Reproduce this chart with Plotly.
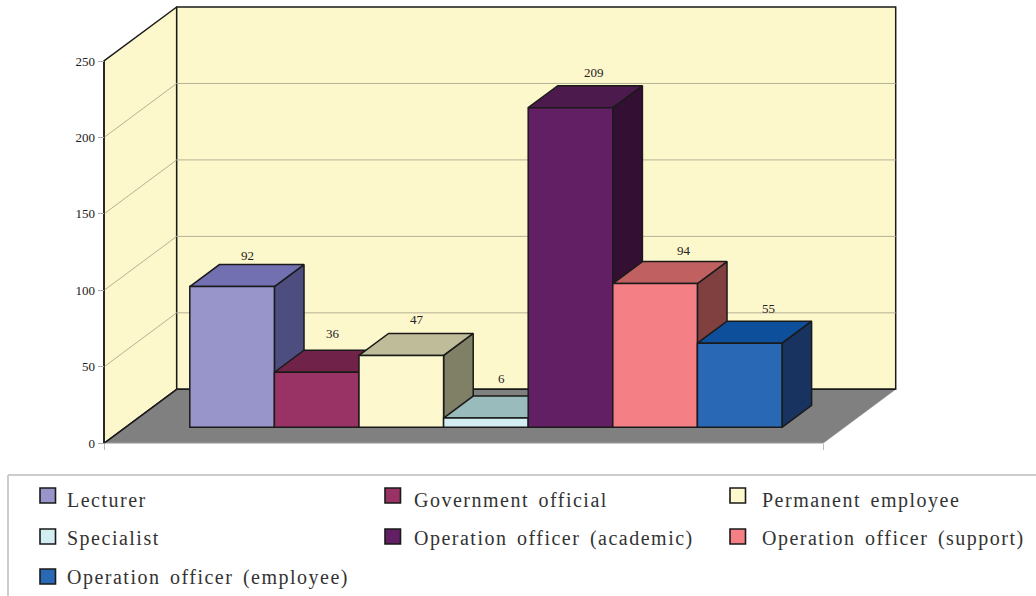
import plotly.graph_objects as go

# ---- data ----
categories = ["Lecturer", "Government official", "Permanent employee", "Specialist",
              "Operation officer (academic)", "Operation officer (support)",
              "Operation officer (employee)"]
values = [92, 36, 47, 6, 209, 94, 55]
y_ticks = [0, 50, 100, 150, 200, 250]

# ---- styles ----
front_colors = ["#9795C9", "#993366", "#FDF8CE", "#D3EEF3", "#631F63", "#F47F84", "#2968B4"]
top_colors = ["#7270B0", "#702248", "#BFBD99", "#99BBBB", "#4D1A4D", "#C06060", "#0E4F9B"]
side_colors = ["#4D4D80", "#4D1A33", "#808066", "#6A8080", "#331033", "#804040", "#183360"]
label_dx = [1, 1, 1, 1, 9, 14, 14]
label_dy = [9, 17, 14, 18, 13, 11, 13]
W, H = 1036, 596
X0, X1, Y0, Y1 = 104, 823, 443.3, 61
CAT_PX = 84.6
VAL_PX = (Y0 - Y1) / 250
DX = 72.7 / CAT_PX      # depth shift in category units
DY = 54 / VAL_PX        # depth shift in value units
D0, D1 = 16 / 54, 38 / 54  # bar front and back depth
half = (X1 - X0) / CAT_PX / 2
L, R = 2.99 - half, 2.99 + half
x_full = [L - X0 / CAT_PX, L + (W - X0) / CAT_PX]
y_full = [-(H - Y0) / VAL_PX, Y0 / VAL_PX]
WALL, FLOOR, GRID, EDGE = "#FDF7CC", "#808080", "#B5B196", "#1A1A1A"
FONT = "Liberation Serif"


def proj(x, v, d):
    return x + d * DX, v + d * DY


def poly(pts, fill, line=EDGE, width=1.5):
    xs, ys = zip(*[proj(*p) for p in pts])
    return go.Scatter(x=list(xs) + [xs[0]], y=list(ys) + [ys[0]], mode="lines", fill="toself",
                      fillcolor=fill, line=dict(color=line, width=width), hoverinfo="skip",
                      showlegend=False, xaxis="x", yaxis="y")


def seg(a, b, color, width=1.0):
    xs, ys = zip(proj(*a), proj(*b))
    return go.Scatter(x=list(xs), y=list(ys), mode="lines", line=dict(color=color, width=width),
                      hoverinfo="skip", showlegend=False, xaxis="x", yaxis="y")


fig = go.Figure()
# walls and floor
fig.add_trace(poly([(L, 0, 0), (L, 0, 1), (L, 250, 1), (L, 250, 0)], WALL))
fig.add_trace(poly([(L, 0, 1), (R, 0, 1), (R, 250, 1), (L, 250, 1)], WALL))
fig.add_trace(poly([(L, 0, 0), (R, 0, 0), (R, 0, 1), (L, 0, 1)], FLOOR, line=FLOOR, width=0.5))
fig.add_trace(seg((L, 0, 0), (L, 0, 1), EDGE, 1.5))
fig.add_trace(seg((L, 0, 1), (R, 0, 1), EDGE, 1.5))
fig.add_trace(seg((L, 0, 0), (R, 0, 0), "#CCCCCC", 1))
for t in y_ticks[1:-1]:
    fig.add_trace(seg((L, t, 0), (L, t, 1), GRID))
    fig.add_trace(seg((L, t, 1), (R, t, 1), GRID))
fig.add_trace(seg((L, 0, 0), (L, 250, 0), EDGE, 1.5))

# side faces, then top faces
for i, v in enumerate(values):
    b = i + 0.5
    fig.add_trace(poly([(b, 0, D0), (b, 0, D1), (b, v, D1), (b, v, D0)], side_colors[i]))
for i, v in enumerate(values):
    a, b = i - 0.5, i + 0.5
    fig.add_trace(poly([(a, v, D0), (b, v, D0), (b, v, D1), (a, v, D1)], top_colors[i]))

# front faces on an overlaid subplot
fig.add_trace(go.Bar(x=[i + D0 * DX for i in range(len(values))], y=values,
                     base=[D0 * DY] * len(values), width=1,
                     marker=dict(color=front_colors, line=dict(color=EDGE, width=1.5)),
                     customdata=categories, hovertemplate="%{customdata}: %{y}<extra></extra>",
                     showlegend=False, xaxis="x2", yaxis="y2"))

# value labels
anns = []
for i, v in enumerate(values):
    x, y = proj(i, v, D1)
    x -= (D1 - D0) / 2 * DX
    anns.append(dict(x=x, y=y, xref="x", yref="y", text=str(v), showarrow=False,
                     xshift=label_dx[i], yshift=label_dy[i], font=dict(family=FONT, size=13, color="#222222")))

# legend
col_swatch = [40, 385, 730]
col_text = [65, 412, 760]
row_center = [495.5, 536.5, 576.5]
row_text = [500, 538, 577]
shapes = [
    dict(type="line", xref="paper", yref="paper", x0=8 / W, x1=1, y0=1 - 475 / H, y1=1 - 475 / H,
         line=dict(color="#CCCCCC", width=2)),
    dict(type="line", xref="paper", yref="paper", x0=8 / W, x1=8 / W, y0=1 - 475 / H, y1=0,
         line=dict(color="#CCCCCC", width=2)),
]
for i, name in enumerate(categories):
    r, c = i // 3, i % 3
    shapes.append(dict(type="rect", xref="paper", yref="paper",
                       x0=col_swatch[c] / W, x1=(col_swatch[c] + 15.5) / W,
                       y0=1 - (row_center[r] + 7.5) / H, y1=1 - (row_center[r] - 7.5) / H,
                       fillcolor=front_colors[i], line=dict(color=EDGE, width=1.6)))
    anns.append(dict(x=col_text[c] / W, y=1 - row_text[r] / H, xref="paper", yref="paper",
                     text=name, showarrow=False, xanchor="left", yanchor="middle", align="left",
                     font=dict(family=FONT, size=20, color="#333333")))

fig.update_layout(
    template="none", width=W, height=H, margin=dict(l=0, r=0, t=0, b=0), paper_bgcolor="white",
    plot_bgcolor="rgba(0,0,0,0)", showlegend=False, shapes=shapes, annotations=anns,
    xaxis=dict(domain=[0, 1], range=x_full, tickvals=[L, R], ticktext=["", ""], ticks="outside", ticklen=6,
               tickcolor="#BBBBBB", showline=False, showgrid=False, zeroline=False,
               anchor="free", position=1 - Y0 / H),
    yaxis=dict(domain=[0, 1], range=y_full, tickvals=y_ticks, ticks="outside", ticklen=6, tickcolor="#AAAAAA",
               showline=False, showgrid=False, zeroline=False, anchor="free", position=(X0 - 0.5) / W,
               tickfont=dict(family=FONT, size=13, color="#222222")),
    xaxis2=dict(domain=[0, 1], range=x_full, overlaying="x", visible=False),
    yaxis2=dict(domain=[0, 1], range=y_full, overlaying="y", visible=False),
)

post = """
document.body.style.margin = '0';
document.querySelectorAll('.annotation-text').forEach(function (e) {
  if (!/^[0-9]+$/.test(e.textContent)) { e.style.letterSpacing = '1.5px'; e.style.wordSpacing = '3px'; }
});
"""
fig.write_html("out.html", post_script=post, config={"displayModeBar": False})
